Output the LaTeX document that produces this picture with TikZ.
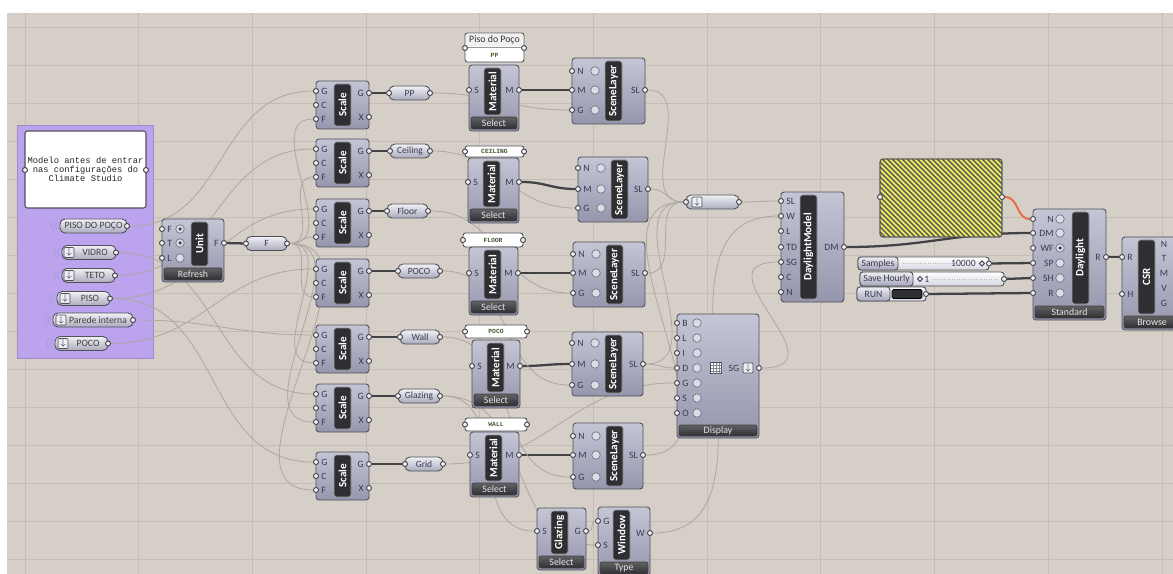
\documentclass[tikz,border=0pt]{standalone}
\usepackage{fontspec}
\setmainfont{Carlito}
\newfontfamily\ghmono{Liberation Mono}
\usetikzlibrary{arrows.meta,positioning,calc,fit,shapes.misc}
\definecolor{ghbg}{HTML}{D5CFC8}
\definecolor{ghgrid}{HTML}{C3BDB6}
\definecolor{ghgroup}{HTML}{BBA3EE}
\definecolor{ghtop}{HTML}{C4C5D5}
\definecolor{ghbot}{HTML}{9596AD}
\definecolor{ghedge}{HTML}{505058}
\definecolor{ghbar}{HTML}{2F2F33}
\definecolor{ghfoot}{HTML}{3A3A3E}
\definecolor{ghtext}{HTML}{3A3A52}
\definecolor{ghwire}{HTML}{ADA79F}
\definecolor{ghthick}{HTML}{424244}
\definecolor{ghhot}{HTML}{EE6A45}
\definecolor{ghyellow}{HTML}{EEEC5E}
\definecolor{ghtag}{HTML}{3F5A30}
\pgfdeclarelayer{canvas}
\pgfdeclarelayer{wires}
\pgfsetlayers{canvas,wires,main}
\tikzset{
  compbox/.style={draw=ghedge, line width=0.5pt, rounded corners=0.06cm,
                  top color=ghtop, bottom color=ghbot, inner sep=0pt},
  titlebar/.style={draw=gray!75, line width=0.4pt, fill=ghbar, rounded corners=0.05cm, inner sep=0pt},
  titletext/.style={text=white, font=\bfseries\fontsize{6.3}{7}\selectfont, inner sep=0pt},
  footbar/.style={draw=black!75, line width=0.4pt, top color=ghfoot!80!white, bottom color=ghbar,
                  rounded corners=0.04cm, inner sep=0pt},
  foottext/.style={text=white!90!black, font=\fontsize{5.6}{6}\selectfont, inner sep=0pt},
  plabel/.style={text=ghtext, font=\fontsize{5.5}{6}\selectfont, inner sep=0pt},
  nub/.style={circle, draw=ghedge!90!black, fill=white!80!ghtop, line width=0.55pt,
              minimum size=0.1cm, inner sep=0pt},
  radio/.style={circle, draw=ghtext!70, fill=white!40!ghtop, line width=0.4pt,
                minimum size=0.17cm, inner sep=0pt},
  dot/.style={circle, fill=ghtext, minimum size=0.07cm, inner sep=0pt},
  pill/.style={draw=ghedge, line width=0.5pt, rounded corners=0.1cm, top color=white!75!ghtop,
               bottom color=ghbot!80!white, text=ghtext, font=\fontsize{5.4}{6}\selectfont, inner sep=0pt},
  icobox/.style={draw=ghedge, line width=0.4pt, fill=white!70!ghtop, rounded corners=0.02cm,
                 minimum size=0.2cm, inner sep=0pt, text=ghtext, font=\fontsize{5}{5}\selectfont},
  tagbox/.style={draw=ghedge, line width=0.5pt, fill=white, rounded corners=0.05cm, inner sep=0pt},
  tagtext/.style={text=ghtag, font=\ghmono\bfseries\fontsize{3.6}{4}\selectfont, inner sep=0pt},
  notepanel/.style={draw=ghedge, line width=0.6pt, fill=white, rounded corners=0.05cm, align=center,
                    text=black!85, font=\ghmono\fontsize{5}{5.1}\selectfont, inner sep=0pt},
  slider/.style={draw=ghedge, line width=0.5pt, rounded corners=0.06cm, top color=white,
                 bottom color=ghtop!70!white, inner sep=0pt},
  slidelab/.style={draw=ghedge, line width=0.5pt, rounded corners=0.06cm, top color=white!70!ghtop,
                   bottom color=ghbot!85!white, inner sep=0pt},
  px/.style 2 args={minimum width={(#1)*0.02cm}, minimum height={(#2)*0.02cm}},
  wire/.style={draw=ghwire, line width=0.45pt},
  fat/.style={draw=ghthick, line width=1.3pt},
  hot/.style={draw=ghhot, line width=1.1pt},
  gw/.style={out=0, in=180, looseness=1.1}}
\newcommand{\ghcomp}[8]{%
  \node[compbox, fit={(#2,#3) (#4,#5)}] (#1) {};
  \if\relax\detokenize{#8}\relax
    \node[titlebar, fit={({#2+#6},{#3+3}) ({#2+#6+17},{#5-3})}] (#1bar) {};
  \else
    \node[titlebar, fit={({#2+#6},{#3+3}) ({#2+#6+17},{#5-16})}] (#1bar) {};
    \node[footbar, fit={({#2+2},{#5-14}) ({#4-2},{#5-2})}] (#1ft) {};
    \node[foottext] (#1fttx) at (#1ft) {#8};
  \fi
  \node[titletext, rotate=90] (#1tx) at (#1bar) {#7};}
\newcommand{\pin}[4]{\node[nub] (#1) at (#2,{#3}) {};
  \node[plabel, anchor=west] (#1t) at ({#2+5},{#3}) {#4};}
\newcommand{\pinr}[5]{\pin{#1}{#2}{#3}{#4}\node[radio] (#1r) at ({#2+#5},{#3}) {};}
\newcommand{\pinl}[4]{\node[nub] (#1) at (#2,{#3}) {};
  \node[plabel, anchor=east] (#1t) at ({#2+21},{#3}) {#4};
  \node[radio] (#1r) at ({#2+27},{#3}) {};}
\newcommand{\pout}[4]{\node[nub] (#1) at (#2,{#3}) {};
  \node[plabel, anchor=east] (#1t) at ({#2-5},{#3}) {#4};}
\newcommand{\gpill}[5]{\node[pill, px={#3-#2}{14}] (#1) at ({(#2+#3)/2},{#4}) {#5};
  \node[nub] (#1i) at (#2,{#4}) {};
  \node[nub] (#1o) at (#3,{#4}) {};}
\newcommand{\vlist}[7]{%
  \draw[ghgroup!70!gray, line width=0.35pt] ({#2-3},{#4-4}) to[bend right=45] ({#2-3},{#4+4});
  \draw[ghgroup!70!gray, line width=0.35pt] ({#2-6},{#4-5}) to[bend right=45] ({#2-6},{#4+5});
  \node[pill, px={#3-#2}{14}] (#1) at ({(#2+#3)/2},{#4}) {};
  \if\relax\detokenize{#5}\relax\else\node[icobox] (#1ic) at (#5,{#4}) {$\downarrow$};\fi
  \node[plabel, text=black!75] (#1tx) at (#6,{#4}) {#7};
  \node[nub] (#1o) at (#3,{#4}) {};}
\newcommand{\tagpanel}[6]{\node[tagbox, fit={(#2,#3) (#4,#5)}] (#1) {};
  \node[tagtext] (#1tx) at (#1) {#6};
  \node[nub] (#1i) at (#2,{(#3+#5)/2}) {};
  \node[nub] (#1o) at (#4,{(#3+#5)/2}) {};}
\newcommand{\scaleblock}[2]{%
  \ghcomp{sc#1}{316}{#2}{369}{#2+48}{18}{Scale}{}%
  \pin{scG#1}{316}{#2+10}{G}\pin{scC#1}{316}{#2+24}{C}\pin{scF#1}{316}{#2+38}{F}%
  \pout{scO#1}{369}{#2+12}{G}\pout{scX#1}{369}{#2+36}{X}}
\newcommand{\matblock}[6]{%
  \ghcomp{ma#1}{#2}{#3}{#4}{#5}{15}{Material}{Select}%
  \pin{maS#1}{#2}{#6}{S}\pout{maM#1}{#4}{#6}{M}}
\newcommand{\layerblock}[8]{%
  \ghcomp{sl#1}{#2}{#3}{#4}{#5}{33}{SceneLayer}{}%
  \pinr{slN#1}{#2}{#6}{N}{23}\pinr{slM#1}{#2}{#7}{M}{23}\pinr{slG#1}{#2}{#8}{G}{23}%
  \pout{slO#1}{#4}{#7}{SL}}

\begin{document}
\begin{tikzpicture}[x=0.02cm, y=-0.02cm]
  \useasboundingbox (0,0) rectangle (1173,574);
  \begin{pgfonlayer}{canvas}
    \fill[white] (0,0) rectangle (1173,574);
    \fill[ghbg] (7,13) rectangle (1173,574);
    \foreach \gx in {0,...,10} \draw[ghgrid, line width=0.5pt] ({25+113.7*\gx},13) -- ++(0,561);
    \foreach \gy in {0,...,14} \draw[ghgrid, line width=0.5pt] (7,{27+38*\gy}) -- ++(1166,0);
    \node[fill=ghgroup, draw=ghgroup!85!black, line width=0.4pt, inner sep=0pt,
          fit={(17,125) (153,358)}] (grp) {};
  \end{pgfonlayer}

  \node[notepanel, px={121}{77}] (note) at (85.5,169.5)
    {Modelo antes de entrar\\nas configurações do\\Climate Studio};
  \node[nub] (notei) at (25,170) {};
  \node[nub] (noteo) at (146,170) {};

  \vlist{vl1}{60}{127}{226}{}{93.5}{PISO DO POÇO}
  \vlist{vl2}{62}{116}{252.5}{69}{95}{VIDRO}
  \vlist{vl3}{62}{115}{275.5}{69}{95}{TETO}
  \vlist{vl4}{57}{110}{298.5}{65}{90}{PISO}
  \vlist{vl5}{53}{133}{320}{61}{98}{Parede interna}
  \vlist{vl6}{55}{108}{343.5}{63}{88}{POCO}

  \ghcomp{un}{162}{219}{224}{282}{29}{Unit}{Refresh}
  \pinr{unF}{162}{229}{F}{18}\pinr{unT}{162}{243}{T}{18}\pinr{unL}{162}{258}{L}{18}
  \node[dot] (unFd) at (unFr) {};
  \node[dot] (unTd) at (unTr) {};
  \pout{unO}{224}{243}{F}
  \gpill{fp}{246}{287}{243.5}{F}

  \scaleblock{1}{81}
  \scaleblock{2}{139}
  \scaleblock{3}{199}
  \scaleblock{4}{259}
  \scaleblock{5}{325}
  \scaleblock{6}{384}
  \scaleblock{7}{452}
  \gpill{pl1}{389}{430}{93}{PP}
  \gpill{pl2}{390}{430}{151}{Ceiling}
  \gpill{pl3}{387}{428}{211}{Floor}
  \gpill{pl4}{398}{440}{271}{POCO}
  \gpill{pl5}{400}{440}{337}{Wall}
  \gpill{pl6}{398}{440}{396}{Glazing}
  \gpill{pl7}{405}{443}{464}{Grid}

  \node[tagbox, fit={(465,33) (524,62)}] (tg1) {};
  \node[fill=black!6, rounded corners=0.04cm, inner sep=0pt, fit={(466,34) (523,46.5)}] (tg1h) {};
  \draw[ghedge!60, line width=0.3pt] (465.5,47) -- (523.5,47);
  \node[plabel, text=black!80, font=\fontsize{5.6}{6}\selectfont] (tg1ht) at (494.5,40) {Piso do Poço};
  \node[tagtext] (tg1tx) at (494.5,55) {PP};
  \node[nub] (tg1i) at (465,48) {};
  \node[nub] (tg1o) at (524,48) {};
  \tagpanel{tg2}{465}{146}{524}{157}{CEILING}
  \tagpanel{tg3}{463}{233}{523}{247}{FLOOR}
  \tagpanel{tg4}{465}{325}{527}{338}{POCO}
  \tagpanel{tg5}{465}{418}{527}{431}{WALL}

  \matblock{1}{469}{65}{519}{131}{90}
  \matblock{2}{468}{158}{519}{223}{182}
  \matblock{3}{469}{247}{518}{315}{273}
  \matblock{4}{472}{340}{520}{408}{366}
  \matblock{5}{470}{432}{519}{497}{455}

  \layerblock{1}{572}{58}{645}{124}{71}{90}{110}
  \layerblock{2}{578}{157}{648}{222}{168}{189}{208}
  \layerblock{3}{573}{242}{645}{307}{254}{273}{293}
  \layerblock{4}{572}{332}{643}{396}{343}{364}{385}
  \layerblock{5}{573}{423}{643}{489}{436}{455}{477}

  \gpill{rl}{686}{739}{202}{}
  \node[icobox] (rlic) at (697,202) {$\downarrow$};

  \ghcomp{dm}{781}{192}{844}{302}{19}{DaylightModel}{}
  \pin{dmSL}{781}{201}{SL}\pin{dmW}{781}{216}{W}\pin{dmL}{781}{231}{L}\pin{dmTD}{781}{247}{TD}
  \pin{dmSG}{781}{262}{SG}\pin{dmC}{781}{277}{C}\pin{dmN}{781}{292}{N}
  \pout{dmO}{844}{247}{DM}

  \node[compbox, fit={(677,314) (759,438)}] (dp) {};
  \node[footbar, fit={(679,425) (757,436)}] (dpft) {};
  \node[foottext] (dpfttx) at (dpft) {Display};
  \pinr{dpB}{677}{323}{B}{20}\pinr{dpL}{677}{338}{L}{20}\pinr{dpI}{677}{353}{I}{20}
  \pinr{dpD}{677}{368}{D}{20}\pinr{dpG}{677}{383}{G}{20}\pinr{dpS}{677}{398}{S}{20}
  \pinr{dpO}{677}{413}{O}{20}
  \node[draw=ghedge, fill=white, line width=0.4pt, minimum size=0.22cm, inner sep=0pt] (dpico) at (716,368) {};
  \foreach \k in {-2.75,0,2.75} {
    \draw[ghedge!70, line width=0.25pt] ({716+\k},362.5) -- ++(0,11);
    \draw[ghedge!70, line width=0.25pt] (710.5,{368+\k}) -- ++(11,0);}
  \node[plabel] (dpsg) at (734,368) {SG};
  \node[icobox] (dpic) at (748,368) {$\downarrow$};
  \node[nub] (dpOut) at (759,368) {};

  \node[draw=ghedge, line width=0.5pt, fill=ghyellow, rounded corners=0.06cm, inner sep=0pt,
        fit={(880,159) (1002,237)}] (yp) {};
  \begin{scope}
    \clip[rounded corners=0.06cm] (880,159) rectangle (1002,237);
    \foreach \i in {0,...,40} \draw[black!65, line width=0.028cm] ({802+5*\i},159) -- ++(78,78);
  \end{scope}
  \draw[ghedge, line width=0.5pt, rounded corners=0.06cm] (880,159) rectangle (1002,237);
  \node[nub] (ypi) at (880,197) {};
  \node[nub] (ypo) at (1002,197) {};

  \ghcomp{dl}{1033}{209}{1106}{320}{39}{Daylight}{Standard}
  \pinl{dlN}{1033}{219}{N}\pinl{dlDM}{1033}{233}{DM}\pinl{dlWF}{1033}{248}{WF}
  \pinl{dlSP}{1033}{263}{SP}\pinl{dlSH}{1033}{278}{SH}\pinl{dlR}{1033}{293}{R}
  \node[dot] (dlWFd) at (dlWFr) {};
  \pout{dlO}{1106}{257}{R}

  \ghcomp{cs}{1122}{237}{1182}{330}{16}{CSR}{Browse}
  \pin{csR}{1122}{257}{R}\pin{csH}{1122}{294}{H}
  \node[plabel] (csN) at (1164,244) {N};
  \node[plabel] (csT) at (1164,258) {T};
  \node[plabel] (csM) at (1164,273) {M};
  \node[plabel] (csV) at (1164,288) {V};
  \node[plabel] (csG) at (1164,303) {G};

  \node[slider, fit={(858,257) (989,270)}] (sa) {};
  \node[slidelab, fit={(858,257) (898,270)}] (sal) {};
  \node[plabel] (salt) at (sal) {Samples};
  \draw[gray!55, densely dotted, line width=0.4pt] (903,263.5) -- (955,263.5);
  \node[plabel, anchor=east] (sav) at (976,263.5) {10000};
  \node[draw=ghtext, rotate=45, minimum size=0.07cm, inner sep=0pt, line width=0.45pt] (sad) at (982,263.5) {};
  \node[nub] (saO) at (989,263.5) {};

  \node[slider, fit={(860,272) (1004,286)}] (sh) {};
  \node[slidelab, fit={(860,272) (913,286)}] (shl) {};
  \node[plabel] (shlt) at (shl) {Save Hourly};
  \node[draw=ghtext, rotate=45, minimum size=0.07cm, inner sep=0pt, line width=0.45pt] (shd) at (920,279) {};
  \node[plabel, anchor=west] (shv) at (924,279) {1};
  \draw[gray!55, densely dotted, line width=0.4pt] (932,279) -- (996,279);
  \node[nub] (shO) at (1004,279) {};

  \node[slider, fit={(857,287) (926,301)}] (rn) {};
  \node[slidelab, fit={(857,287) (890,301)}] (rnl) {};
  \node[plabel] (rnlt) at (rnl) {RUN};
  \node[fill=ghbar, draw=black, line width=0.4pt, rounded corners=0.03cm, inner sep=0pt,
        fit={(892,289.5) (922,298.5)}] (rnb) {};
  \node[nub] (rnO) at (926,294) {};

  \ghcomp{gs}{537}{508}{586}{570}{14}{Glazing}{Select}
  \pin{gsS}{537}{531}{S}\pout{gsO}{586}{531}{G}
  \ghcomp{wn}{598}{507}{650}{576}{15}{Window}{Type}
  \pin{wnG}{598}{521}{G}\pin{wnS}{598}{545}{S}\pout{wnO}{650}{533}{W}

  \begin{pgfonlayer}{wires}
    \draw[fat] (unO) -- (fpi);
    \foreach \n in {1,...,7} \draw[fat] (scO\n) -- (pl\n i);
    \foreach \n in {1,...,5} \draw[fat] (maM\n) to[gw] (slM\n);
    \draw[fat] (dmO) to[gw] (dlDM);
    \draw[fat] (saO) -- (dlSP);
    \draw[fat] (shO) -- (dlSH);
    \draw[fat] (rnO) -- (dlR);
    \draw[fat] (dlO) -- (csR);
    \draw[hot] (ypo) to[gw] (dlN);
    \foreach \n in {1,...,7} \draw[wire] (fpo) to[gw] (scF\n);
    \draw[wire] (vl1o) to[gw] (scG1);
    \draw[wire] (vl3o) to[gw] (scG2);
    \draw[wire] (vl4o) to[gw] (scG3);
    \draw[wire] (vl6o) to[gw] (scG4);
    \draw[wire] (vl5o) to[gw] (scG5);
    \draw[wire] (vl2o) to[gw] (scG6);
    \draw[wire] (vl4o) to[gw] (scG7);
    \foreach \n in {1,...,5} \draw[wire] (pl\n o) to[gw] (slG\n);
    \draw[wire] (pl6o) to[gw] (gsS);
    \draw[wire] (pl6o) to[gw] (wnS);
    \draw[wire] (pl7o) to[gw] (dpG);
    \foreach \n in {1,...,5} \draw[wire] (slO\n) to[gw] (rli);
    \draw[wire] (slO4) to[gw] (dpD);
    \draw[wire] (rlo) to[gw] (dmSL);
    \draw[wire] (gsO) to[gw] (wnG);
    \draw[wire] (dpOut) to[out=0, in=180, looseness=2] (dmSG);
    \draw[wire] (wnO) to[gw] (dmW);
  \end{pgfonlayer}
\end{tikzpicture}
\end{document}
